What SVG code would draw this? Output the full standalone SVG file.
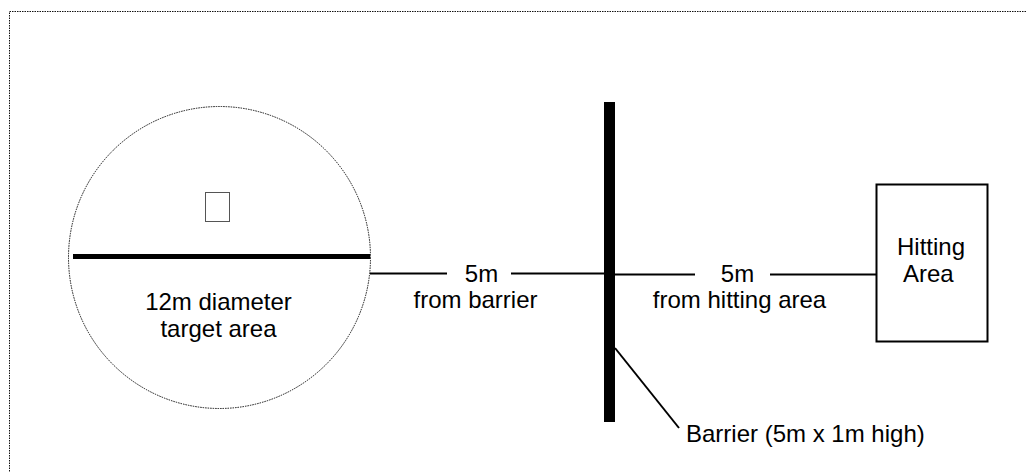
<svg xmlns="http://www.w3.org/2000/svg" width="1026" height="472" viewBox="0 0 1026 472">
<style>
text{font-family:"Liberation Sans",Arial,sans-serif;font-size:24px;fill:#000}
.c{text-anchor:middle}
.conn{stroke:#000;stroke-width:2;fill:none}
.dot{fill:none;stroke:#111;stroke-width:1;stroke-dasharray:1.5 1}
</style>
<rect width="1026" height="472" fill="#fff"/>
<rect id="frame" class="dot" x="9.5" y="11.5" width="1040" height="480"/>
<g id="target">
<circle class="dot" cx="219.5" cy="257.5" r="151"/>
<rect x="205.5" y="192.5" width="24" height="29" fill="#fff" stroke="#555" stroke-width="1"/>
<line x1="73" y1="256.5" x2="370" y2="256.5" stroke="#000" stroke-width="5"/>
<text class="c" x="218.5" y="310">12m diameter</text>
<text class="c" x="218.5" y="337">target area</text>
</g>
<g id="barrier">
<rect x="604" y="102" width="11" height="320" fill="#000"/>
<text x="686" y="442">Barrier (5m x 1m high)</text>
</g>
<g id="hitting">
<rect x="876.5" y="184.5" width="111" height="157" fill="#fff" stroke="#000" stroke-width="2"/>
<text x="897" y="255">Hitting</text>
<text x="903" y="282">Area</text>
</g>
<g id="connectors">
<line class="conn" x1="370" y1="273.5" x2="447" y2="273.5"/>
<line class="conn" x1="511" y1="273.5" x2="604" y2="273.5"/>
<line class="conn" x1="615" y1="274.5" x2="695" y2="274.5"/>
<line class="conn" x1="770" y1="274.5" x2="876" y2="274.5"/>
<line class="conn" x1="615" y1="348" x2="679" y2="428"/>
</g>
<g id="labels">
<text class="c" x="481.5" y="282">5m</text>
<text class="c" x="475.5" y="308">from barrier</text>
<text class="c" x="737.5" y="282">5m</text>
<text class="c" x="739.5" y="308">from hitting area</text>
</g>
</svg>
